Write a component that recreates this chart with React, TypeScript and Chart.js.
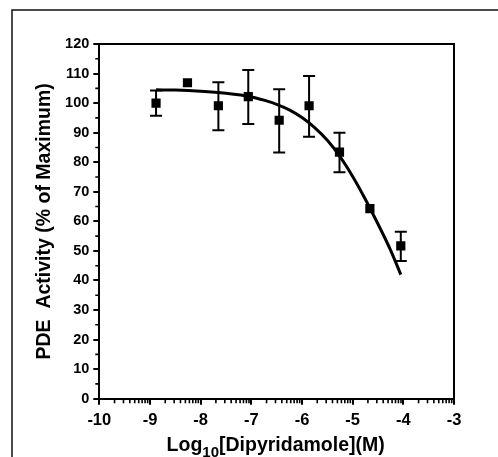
import React, { useEffect, useRef } from "react";
import { Chart, registerables } from "chart.js";

Chart.register(...registerables);

// ---- data ----
const logConc = [-8.88, -8.26, -7.65, -7.06, -6.45, -5.86, -5.26, -4.66, -4.05];
const activity = [100.0, 106.9, 99.1, 102.2, 94.2, 99.1, 83.4, 64.3, 51.7];
const errHigh: (number | null)[] = [104.3, null, 107.1, 111.2, 104.7, 109.2, 90.0, null, 56.5];
const errLow: (number | null)[] = [95.7, null, 90.8, 92.9, 83.3, 88.6, 76.6, null, 46.6];

const fitX = [-8.88, -8.5, -8.0, -7.5, -7.0, -6.75, -6.5, -6.25, -6.0, -5.75, -5.5, -5.25, -5.0, -4.75, -4.5, -4.25, -4.05];
const fitY = [104.5, 104.4, 104.0, 103.3, 102.1, 101.0, 99.6, 97.7, 95.1, 91.7, 87.4, 81.9, 75.2, 67.5, 59.1, 50.2, 42.0];

const xTicks = [-10, -9, -8, -7, -6, -5, -4, -3];
const yTicks = [0, 10, 20, 30, 40, 50, 60, 70, 80, 90, 100, 110, 120];
const yMinorTicks = [5, 15, 25, 35, 45, 55, 65, 75, 85, 95, 105, 115];
const xMinorFactors = [2, 3, 4, 5, 6, 7, 8, 9];

const xTitleParts = ["Log", "10", "[Dipyridamole](M)"];
const yTitle = "PDE  Activity (% of Maximum)";

const FONT = "'Liberation Sans', Arial, Helvetica, sans-serif";

const decorPlugin = {
  id: "decor",
  beforeDraw(chart: any) {
    const ctx = chart.ctx;
    ctx.save();
    ctx.strokeStyle = "#111";
    ctx.lineWidth = 1.5;
    ctx.beginPath();
    ctx.moveTo(12, chart.height + 2);
    ctx.lineTo(12, 10);
    ctx.lineTo(chart.width + 2, 10);
    ctx.stroke();
    ctx.restore();
  },
  beforeDatasetsDraw(chart: any) {
    const ctx = chart.ctx;
    const xs = chart.scales.x;
    const ys = chart.scales.y;
    ctx.save();
    ctx.strokeStyle = "#000";
    ctx.lineWidth = 2;
    for (let i = 0; i < logConc.length; i++) {
      const hi = errHigh[i];
      const lo = errLow[i];
      if (hi == null || lo == null) continue;
      const x = xs.getPixelForValue(logConc[i]);
      const y1 = ys.getPixelForValue(hi);
      const y2 = ys.getPixelForValue(lo);
      ctx.beginPath();
      ctx.moveTo(x, y1);
      ctx.lineTo(x, y2);
      ctx.moveTo(x - 6, y1);
      ctx.lineTo(x + 6, y1);
      ctx.moveTo(x - 6, y2);
      ctx.lineTo(x + 6, y2);
      ctx.stroke();
    }
    ctx.restore();
  },
  afterDraw(chart: any) {
    const ctx = chart.ctx;
    const { left, right, top, bottom } = chart.chartArea;
    const xs = chart.scales.x;
    const ys = chart.scales.y;
    ctx.save();
    ctx.strokeStyle = "#000";
    ctx.lineWidth = 2;
    // top and right frame of plot box
    ctx.beginPath();
    ctx.moveTo(left, top);
    ctx.lineTo(right, top);
    ctx.lineTo(right, bottom);
    ctx.stroke();
    // minor ticks
    ctx.lineWidth = 1.6;
    ctx.beginPath();
    for (const v of yMinorTicks) {
      const y = ys.getPixelForValue(v);
      ctx.moveTo(left - 4, y);
      ctx.lineTo(left, y);
    }
    for (let d = xTicks[0]; d < xTicks[xTicks.length - 1]; d++) {
      for (const f of xMinorFactors) {
        const x = xs.getPixelForValue(d + Math.log10(f));
        ctx.moveTo(x, bottom);
        ctx.lineTo(x, bottom + 4.5);
      }
    }
    ctx.stroke();

    // x title with subscript
    ctx.fillStyle = "#000";
    ctx.textBaseline = "alphabetic";
    ctx.textAlign = "left";
    const mainFont = `bold 19.5px ${FONT}`;
    const subFont = `bold 15px ${FONT}`;
    ctx.font = mainFont;
    const w0 = ctx.measureText(xTitleParts[0]).width;
    const w2 = ctx.measureText(xTitleParts[2]).width;
    ctx.font = subFont;
    const w1 = ctx.measureText(xTitleParts[1]).width;
    const total = w0 + w1 + w2;
    const cx = (left + right) / 2 - 1;
    let x0 = cx - total / 2;
    const base = 450.5;
    ctx.font = mainFont;
    ctx.fillText(xTitleParts[0], x0, base);
    ctx.font = subFont;
    ctx.fillText(xTitleParts[1], x0 + w0, base + 6);
    ctx.font = mainFont;
    ctx.fillText(xTitleParts[2], x0 + w0 + w1, base);

    // y title
    ctx.save();
    ctx.translate(49.6, (top + bottom) / 2);
    ctx.rotate(-Math.PI / 2);
    ctx.textAlign = "center";
    ctx.font = mainFont;
    ctx.fillText(yTitle, 0, 0);
    ctx.restore();

    ctx.restore();
  },
};

export default function App() {
  const ref = useRef<HTMLCanvasElement | null>(null);

  useEffect(() => {
    if (!ref.current) return;
    const chart = new Chart(ref.current, {
      type: "scatter",
      data: {
        datasets: [
          {
            type: "line",
            label: "fit",
            data: fitX.map((x, i) => ({ x, y: fitY[i] })),
            borderColor: "#000",
            borderWidth: 3,
            pointRadius: 0,
            fill: false,
            cubicInterpolationMode: "monotone",
          } as any,
          {
            type: "scatter",
            label: "PDE",
            data: logConc.map((x, i) => ({ x, y: activity[i] })),
            backgroundColor: "#000",
            borderWidth: 0,
            pointStyle: "rect",
            pointRadius: 6.5,
          } as any,
        ],
      },
      options: {
        responsive: false,
        animation: false,
        events: [],
        layout: { padding: { top: 44, right: 44, left: 0, bottom: 0 } },
        plugins: { legend: { display: false }, tooltip: { enabled: false } },
        scales: {
          x: {
            type: "linear",
            min: -10,
            max: -3,
            afterBuildTicks: (s: any) => {
              s.ticks = xTicks.map((v) => ({ value: v }));
            },
            afterFit: (s: any) => {
              s.height = 457 - 398.7;
            },
            ticks: {
              color: "#000",
              font: { family: FONT, size: 16.5, weight: "bold" },
              padding: 6,
              maxRotation: 0,
              autoSkip: false,
            },
            grid: {
              drawOnChartArea: false,
              drawTicks: true,
              tickLength: 6,
              color: "#000",
              lineWidth: 2,
            },
            border: { display: true, color: "#000", width: 2 },
          },
          y: {
            type: "linear",
            min: 0,
            max: 120,
            afterBuildTicks: (s: any) => {
              s.ticks = yTicks.map((v) => ({ value: v }));
            },
            afterFit: (s: any) => {
              s.width = 99.3;
            },
            ticks: {
              color: "#000",
              font: { family: FONT, size: 14.5, weight: "bold" },
              padding: 4,
              autoSkip: false,
            },
            grid: {
              drawOnChartArea: false,
              drawTicks: true,
              tickLength: 6,
              color: "#000",
              lineWidth: 2,
            },
            border: { display: true, color: "#000", width: 2 },
          },
        },
      },
      plugins: [decorPlugin],
    } as any);
    return () => chart.destroy();
  }, []);

  return (
    <div style={{ position: "absolute", left: 0, top: 0, width: 498, height: 457, background: "#fff" }}>
      <canvas ref={ref} width={498} height={457} style={{ display: "block", width: 498, height: 457 }} />
    </div>
  );
}
